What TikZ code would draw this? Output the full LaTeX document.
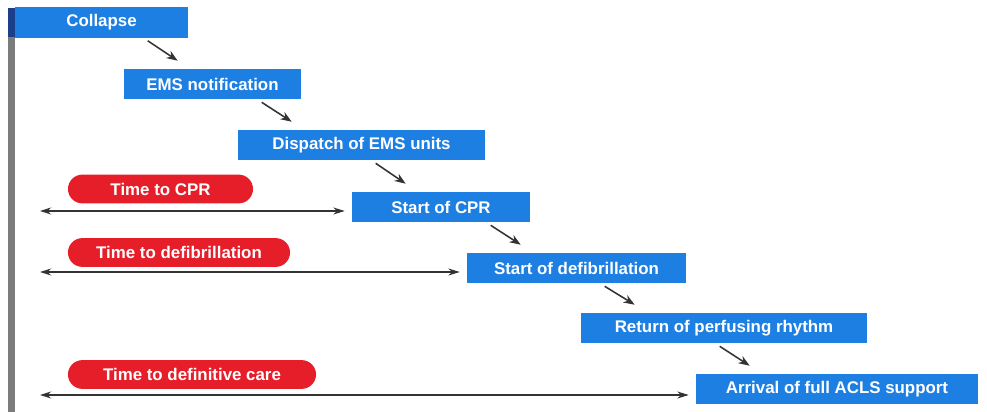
\documentclass[tikz,border=0pt]{standalone}
\usepackage{fontspec}
\setmainfont{Liberation Sans}
\usetikzlibrary{arrows.meta,calc}
\definecolor{emsblue}{HTML}{1E7FE2}
\definecolor{barblue}{HTML}{1B3F8A}
\definecolor{timered}{HTML}{E61E2A}
\definecolor{bargrey}{HTML}{7C7C7C}
\definecolor{inkgrey}{HTML}{333333}

\tikzset{
  stage/.style={fill=emsblue, text=white, inner sep=0pt, minimum height=0.75cm,
    font=\bfseries\fontsize{12}{14}\selectfont},
  interval/.style={fill=timered, text=white, inner sep=0pt, minimum height=0.72cm,
    rounded corners=0.36cm, font=\bfseries\fontsize{12}{14}\selectfont},
  nextstep/.style={draw=inkgrey, line width=1.1pt, -{Stealth[length=8pt,width=6pt]}},
  span/.style={draw=inkgrey, line width=0.8pt, {Stealth[length=8pt,width=5pt]}-{Stealth[length=8pt,width=5pt]}}
}

\begin{document}
\begin{tikzpicture}[x=0.025cm, y=-0.025cm]
  \useasboundingbox (0,0) rectangle (987,412);
  % time axis on the left
  \fill[bargrey] (8,37) rectangle (15,412);
  \fill[barblue] (8,8) rectangle (15,37);

  % chain of events
  \node[stage, minimum width=4.325cm] (collapse) at (101.5,22.5) {Collapse};
  \node[stage, minimum width=4.425cm] (ems) at (212.5,84) {EMS notification};
  \node[stage, minimum width=6.175cm] (dispatch) at (361.5,145) {Dispatch of EMS units};
  \node[stage, minimum width=4.45cm] (cpr) at (441,207) {Start of CPR};
  \node[stage, minimum width=5.475cm] (defib) at (576.5,268) {Start of defibrillation};
  \node[stage, minimum width=7.15cm] (rosc) at (724,328) {Return of perfusing rhythm};
  \node[stage, minimum width=7.05cm] (acls) at (837,389) {Arrival of full ACLS support};

  \foreach \a/\b in {collapse/ems, ems/dispatch, dispatch/cpr, cpr/defib, defib/rosc, rosc/acls}
    \draw[nextstep] ($(\a.south -| \b.west)+(24,3)$) -- ($(\b.north west)+(54,-8)$);

  % intervals
  \node[interval, minimum width=4.625cm] (tocpr) at (160.5,189) {Time to CPR};
  \node[interval, minimum width=5.55cm] (todefib) at (179,252.5) {Time to defibrillation};
  \node[interval, minimum width=6.2cm] (tocare) at (192,374.5) {Time to definitive care};

  \coordinate (startcpr) at (40,211);
  \coordinate (startdefib) at (40,272);
  \coordinate (startcare) at (40,395);
  \draw[span, shorten >=5pt] (startcpr) -- (startcpr -| cpr.west);
  \draw[span, shorten >=5pt] (startdefib) -- (startdefib -| defib.west);
  \draw[span, shorten >=5pt] (startcare) -- (startcare -| acls.west);
\end{tikzpicture}
\end{document}
